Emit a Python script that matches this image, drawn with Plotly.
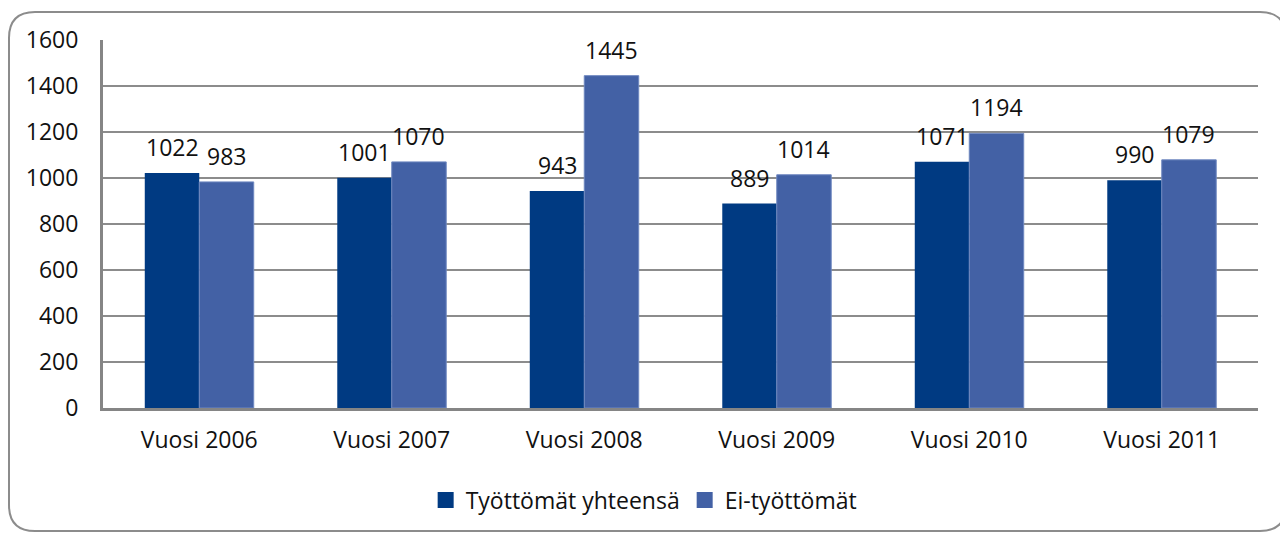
import plotly.graph_objects as go

years = ["Vuosi 2006", "Vuosi 2007", "Vuosi 2008", "Vuosi 2009", "Vuosi 2010", "Vuosi 2011"]
tyottomat = [1022, 1001, 943, 889, 1071, 990]
ei_tyottomat = [983, 1070, 1445, 1014, 1194, 1079]
y_ticks = [0, 200, 400, 600, 800, 1000, 1200, 1400, 1600]

# page has an 8px body margin, so the figure is a bit smaller than the window
W, H = 1280, 525
L, R, T, B = 95, 30, 32, 125
pw, ph = W - L - R, H - T - B
GAP = 0.434
DARK, LIGHT = "#003A82", "#4361A5"


def px(x):
    return (x - L) / pw


def py(y):
    return 1 - (y - T) / ph


font = "Open Sans"
fs = 23

fig = go.Figure()
fig.add_trace(go.Bar(
    x=years, y=tyottomat, name="Työttömät yhteensä",
    marker=dict(color=DARK, line=dict(width=0)), showlegend=False,
))
fig.add_trace(go.Bar(
    x=years, y=ei_tyottomat, name="Ei-työttömät",
    marker=dict(color=LIGHT, line=dict(width=1, color="#6F88C0")), showlegend=False,
))
# legend entries with bigger square swatches
for name, col in [("Työttömät yhteensä", DARK), ("Ei-työttömät", LIGHT)]:
    fig.add_trace(go.Scatter(x=[None], y=[None], mode="markers", name=name,
                             marker=dict(symbol="square", size=16, color=col)))

# value labels above the bars
half = pw / len(years) * (1 - GAP) / 4
for vals, sh in [(tyottomat, -half), (ei_tyottomat, half)]:
    for yr, v in zip(years, vals):
        fig.add_annotation(x=yr, y=v, text=str(v), showarrow=False,
                           xshift=sh, yshift=8, yanchor="bottom",
                           font=dict(size=fs, color="#111111"))

# rounded chart frame
x0, x1, y0, y1 = 1, 1278, 4, 523
r = 26
path = (f"M {px(x0 + r)} {py(y0)} L {px(x1 - r)} {py(y0)} "
        f"Q {px(x1)} {py(y0)} {px(x1)} {py(y0 + r)} "
        f"L {px(x1)} {py(y1 - r)} Q {px(x1)} {py(y1)} {px(x1 - r)} {py(y1)} "
        f"L {px(x0 + r)} {py(y1)} Q {px(x0)} {py(y1)} {px(x0)} {py(y1 - r)} "
        f"L {px(x0)} {py(y0 + r)} Q {px(x0)} {py(y0)} {px(x0 + r)} {py(y0)} Z")
fig.add_shape(type="path", path=path, xref="paper", yref="paper",
              line=dict(color="#8C8C8C", width=2), layer="below")

fig.update_layout(
    width=W, height=H,
    margin=dict(l=L, r=R, t=T, b=B),
    paper_bgcolor="white", plot_bgcolor="white",
    font=dict(family=font, size=fs, color="#111111"),
    barmode="group", bargap=GAP, bargroupgap=0,
    showlegend=True,
    legend=dict(orientation="h", xref="container", x=0.497, xanchor="center",
                yref="container", y=0.063, yanchor="middle",
                font=dict(size=fs), traceorder="normal", itemwidth=30),
)
fig.update_yaxes(
    range=[0, 1600], tickvals=y_ticks, showgrid=True,
    gridcolor="#8C8C8C", gridwidth=2,
    showline=True, linecolor="#858585", linewidth=3,
    ticks="", ticklabelstandoff=17, zeroline=False,
    tickfont=dict(size=fs),
)
fig.update_xaxes(
    showline=True, linecolor="#858585", linewidth=3,
    ticks="", ticklabelstandoff=9, tickfont=dict(size=fs),
)

fig.write_html("out.html")
